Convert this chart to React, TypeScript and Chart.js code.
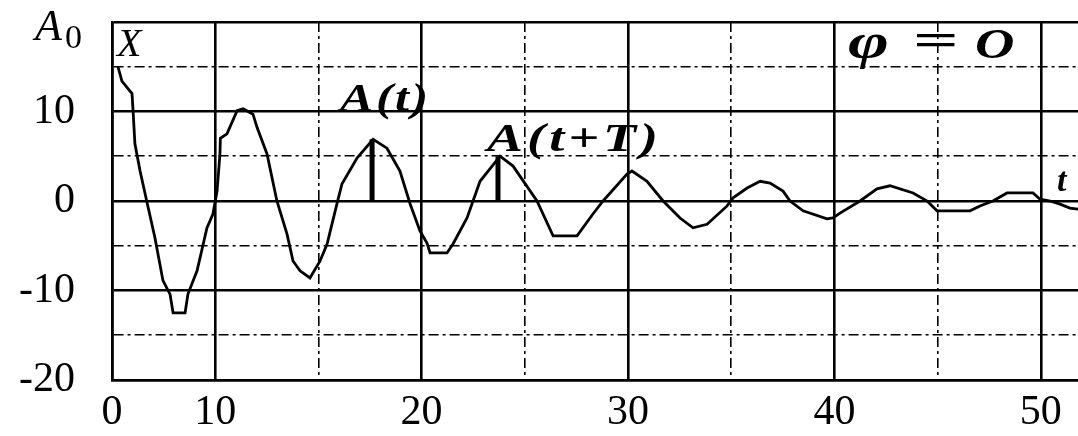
import React, { useEffect, useRef } from "react";
import { Chart, registerables } from "chart.js";

Chart.register(...registerables);

// time axis (grid every 5, the left edge is labelled "0")
const timeValues = [
  5.29, 5.48, 5.97, 6.02, 6.11, 6.36, 6.7, 7.08, 7.47, 7.81, 7.96, 8.54, 8.68, 9.12, 9.6, 9.89,
  10.09, 10.23, 10.25, 10.57, 11.06, 11.35, 11.83, 12.03, 12.51, 12.99, 13.48, 13.77, 14.11, 14.59,
  15.08, 15.42, 15.9, 16.14, 16.87, 17.65, 18.32, 18.95, 19.44, 19.92, 20.26, 20.41, 21.23, 21.52,
  22.2, 22.83, 23.8, 24.43, 25.59, 26.37, 27.53, 28.3, 28.79, 29.95, 30.19, 30.92, 31.7, 32.52,
  33.15, 33.83, 34.8, 35.09, 35.77, 36.4, 36.88, 37.51, 37.85, 38.48, 39.64, 39.93, 40.27, 41.24,
  42.06, 42.69, 43.81, 44.49, 44.97, 46.57, 47.05, 47.68, 48.36, 49.62, 49.96, 50.45, 50.93, 51.41,
  51.8,
];

// displacement X
const displacementValues = [
  15.0, 13.4, 12.0, 10.1, 6.4, 3.35, -0.2, -4.1, -8.9, -10.4, -12.5, -12.5, -10.4, -7.8, -3.0, -1.45,
  1.1, 5.25, 7.0, 7.5, 10.1, 10.3, 9.7, 8.2, 5.25, 0, -3.7, -6.7, -7.8, -8.6,
  -6.7, -4.8, -0.3, 1.9, 4.8, 6.9, 5.9, 3.35, -0.3, -3.35, -4.7, -5.8, -5.8, -4.8,
  -1.9, 2.2, 5.0, 3.9, 0, -3.9, -3.9, -1.45, 0, 3.0, 3.35, 2.2, 0, -1.9,
  -3.0, -2.6, -0.55, 0.35, 1.45, 2.2, 2.0, 1.1, 0, -1.1, -2.0, -1.9, -1.35, 0,
  1.35, 1.7, 0.9, 0, -1.1, -1.1, -0.55, 0, 0.9, 0.9, 0.2, 0, -0.35, -0.8,
  -0.9,
];

// amplitude markers A(t) and A(t+T)
const markerTimes = [17.6, 23.7];
const markerAmplitudes = [6.9, 5.0];

// axis ticks
const xTickValues = [5, 10, 15, 20, 25, 30, 35, 40, 45, 50];
const xTickLabels = ["0", "10", "", "20", "", "30", "", "40", "", "50"];
const yTickValues = [-20, -15, -10, -5, 0, 5, 10, 15, 20];
const yTickLabels = ["-20", "", "-10", "", "0", "", "10", "", ""];

const SERIF = "'Liberation Serif', 'Times New Roman', serif";
const DASH = [10, 4, 3, 4];

const isMajor = (v: number) => Math.abs(v % 10) < 1e-6;

const annotatePlugin = {
  id: "annotate",
  afterDraw(chart: any) {
    const { ctx, chartArea } = chart;
    const x = chart.scales.x;
    const y = chart.scales.y;
    ctx.save();
    ctx.fillStyle = "#000";
    ctx.textAlign = "left";
    ctx.textBaseline = "alphabetic";
    const put = (text: string, t: number, v: number, font: string, spacing = 0, sx = 1) => {
      ctx.save();
      ctx.font = font;
      (ctx as any).letterSpacing = spacing + "px";
      ctx.translate(x.getPixelForValue(t), y.getPixelForValue(v));
      ctx.scale(sx, 1);
      ctx.fillText(text, 0, 0);
      ctx.restore();
    };
    put("X", 5.24, 16.2, `italic 40px ${SERIF}`);
    put("φ", 40.66, 16.0, `italic bold 50px ${SERIF}`, 0, 1.4);
    put("=", 43.81, 16.3, `bold 46px ${SERIF}`, 0, 1.75);
    put("O", 46.81, 16.0, `italic bold 42px ${SERIF}`, 0, 1.3);
    put("A(t)", 16.05, 10.06, `italic bold 40px ${SERIF}`, 2, 1.25);
    put("A(t+T)", 23.17, 5.6, `italic bold 40px ${SERIF}`, 3, 1.35);
    put("t", 50.78, 1.1, `italic bold 34px ${SERIF}`);
    // y-axis symbol A0
    ctx.font = `italic 44px ${SERIF}`;
    ctx.fillText("A", chartArea.left - 77, chartArea.top + 18);
    ctx.font = `34px ${SERIF}`;
    ctx.fillText("0", chartArea.left - 47, chartArea.top + 26);
    ctx.restore();
  },
};

export default function App() {
  const canvasRef = useRef<HTMLCanvasElement | null>(null);

  useEffect(() => {
    if (!canvasRef.current) return;
    const curve = timeValues.map((t, i) => ({ x: t, y: displacementValues[i] }));
    const markerSets = markerTimes.map((t, i) => ({
      type: "line" as const,
      data: [
        { x: t, y: 0 },
        { x: t, y: markerAmplitudes[i] },
      ],
      borderColor: "#000",
      borderWidth: 5,
      borderCapStyle: "butt" as const,
      pointRadius: 0,
      tension: 0,
    }));

    const gridWidth = (ctx: any) => {
      const v = ctx.tick ? ctx.tick.value : 0;
      const edge = ctx.scale && ctx.scale.axis === "x" && Math.abs(v - 5) < 1e-6;
      return isMajor(v) || edge ? 2.6 : 1.6;
    };
    const gridDash = (ctx: any) => {
      if (!ctx.tick) return [];
      const v = ctx.tick.value;
      if (ctx.scale && ctx.scale.axis === "x" && Math.abs(v - 5) < 1e-6) return [];
      return isMajor(v) ? [] : DASH;
    };

    const chart = new Chart(canvasRef.current, {
      type: "line",
      data: {
        datasets: [
          {
            data: curve,
            borderColor: "#000",
            borderWidth: 2.8,
            pointRadius: 0,
            tension: 0,
            fill: false,
          },
          ...markerSets,
        ],
      },
      options: {
        animation: false,
        responsive: true,
        maintainAspectRatio: false,
        layout: { padding: { top: 22, right: 0, left: 0, bottom: 0 } },
        plugins: { legend: { display: false }, tooltip: { enabled: false }, title: { display: false } },
        scales: {
          x: {
            type: "linear",
            min: 5,
            max: 51.8,
            offset: false,
            afterBuildTicks: (scale: any) => {
              scale.ticks = xTickValues.map((v) => ({ value: v }));
            },
            afterFit: (scale: any) => {
              scale.height = 56;
              scale.paddingLeft = 0;
              scale.paddingRight = 0;
              scale.paddingTop = 0;
              scale.paddingBottom = 0;
            },
            ticks: {
              autoSkip: false,
              maxRotation: 0,
              padding: 8,
              color: "#000",
              font: { family: SERIF, size: 42 },
              callback: (value: any) => {
                const idx = xTickValues.findIndex((v) => Math.abs(v - Number(value)) < 1e-6);
                return idx >= 0 ? xTickLabels[idx] : "";
              },
            },
            grid: { color: "#000", lineWidth: gridWidth, drawTicks: false },
            border: { display: true, color: "#000", width: 2.6, dash: gridDash },
          },
          y: {
            type: "linear",
            min: -20,
            max: 20,
            afterBuildTicks: (scale: any) => {
              scale.ticks = yTickValues.map((v) => ({ value: v }));
            },
            afterFit: (scale: any) => {
              scale.width = 112;
              scale.paddingLeft = 0;
              scale.paddingRight = 0;
              scale.paddingTop = 0;
              scale.paddingBottom = 0;
            },
            ticks: {
              autoSkip: false,
              padding: 37,
              color: "#000",
              font: { family: SERIF, size: 42 },
              callback: (value: any) => {
                const idx = yTickValues.findIndex((v) => Math.abs(v - Number(value)) < 1e-6);
                return idx >= 0 ? yTickLabels[idx] : "";
              },
            },
            grid: { color: "#000", lineWidth: gridWidth, drawTicks: false },
            border: { display: true, color: "#000", width: 2.6, dash: gridDash },
          },
        },
      },
      plugins: [annotatePlugin],
    } as any);

    return () => chart.destroy();
  }, []);

  return (
    <div style={{ position: "fixed", left: 0, top: 0, width: 1078, height: 436, background: "#fff" }}>
      <canvas ref={canvasRef} />
    </div>
  );
}
